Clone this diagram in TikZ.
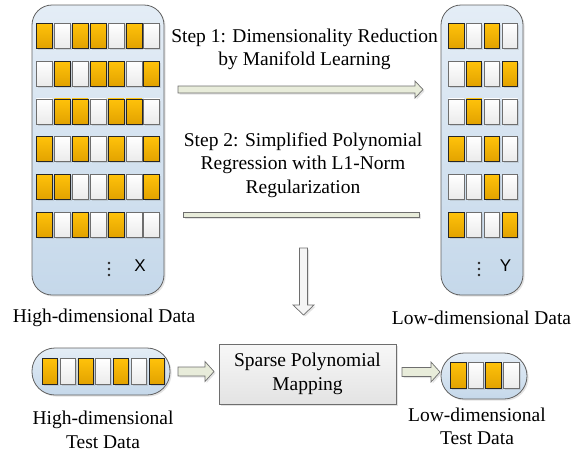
\documentclass[tikz,border=0pt]{standalone}
\usepackage{fontspec}
\setmainfont{Liberation Serif}
\newfontfamily\labelsans{Liberation Sans}
\usetikzlibrary{shadows}

\definecolor{boxtop}{HTML}{E4EDF6}
\definecolor{boxbot}{HTML}{C5D8EA}
\definecolor{orgtop}{HTML}{FFC20A}
\definecolor{orgbot}{HTML}{E2A200}
\definecolor{arrfill}{HTML}{E8ECDA}
\definecolor{edgegray}{HTML}{6E6E6E}

\tikzset{
  soft/.style={drop shadow={shadow xshift=1.6pt, shadow yshift=-1.6pt, opacity=0.22}},
  cell0/.style={draw=edgegray, line width=0.7pt, top color=white, bottom color=black!8,
                minimum width=16pt, minimum height=25pt, inner sep=0pt, anchor=north west, soft},
  cell1/.style={draw=black!85, line width=0.7pt, top color=orgtop, bottom color=orgbot,
                minimum width=16pt, minimum height=25pt, inner sep=0pt, anchor=north west, soft},
  container/.style={draw=black!62, line width=0.8pt, top color=boxtop, bottom color=boxbot,
                    inner sep=0pt, soft},
  blockarrow/.style={draw=edgegray, line width=0.7pt, fill=arrfill, soft},
  downarrow/.style={draw=edgegray, line width=0.7pt, fill=black!4, soft},
  txt/.style={font=\fontsize{19.5}{23.5}\selectfont, align=center, inner sep=0pt},
  axislabel/.style={font=\labelsans\fontsize{17}{17}\selectfont, inner sep=0pt},
}

\begin{document}
\begin{tikzpicture}[x=1pt, y=-1pt]
\useasboundingbox (0,0) rectangle (571,453);

% ---------- training data containers ----------
\node[container, rounded corners=20pt, minimum width=132pt, minimum height=290pt] (hd) at (98,150) {};
\node[container, rounded corners=20pt, minimum width=82pt, minimum height=290pt] (ld) at (482,150) {};

% high-dimensional rows (1 = filled, 0 = empty)
\foreach \row [count=\i from 0] in {
  {1,0,1,1,0,1,0},
  {0,1,0,1,1,0,1},
  {0,1,1,0,1,1,0},
  {1,0,1,0,1,0,1},
  {1,1,0,0,1,0,1},
  {1,0,1,0,1,0,0}} {
  \foreach \v [count=\j from 0] in \row {
    \node[cell\v] (hc-\i-\j) at ({36+17.9*\j},{23+37.8*\i}) {};
  }
}

% low-dimensional rows
\foreach \row [count=\i from 0] in {
  {1,0,1,0},
  {0,1,0,1},
  {0,1,0,0},
  {1,0,1,0},
  {0,0,1,0},
  {1,0,0,1}} {
  \foreach \v [count=\j from 0] in \row {
    \node[cell\v, minimum width=15.5pt] (lc-\i-\j) at ({448+17.9*\j},{23+37.8*\i}) {};
  }
}

% continuation dots and matrix names
\foreach \yy in {263,269,275} {
  \fill[black!85] (109,\yy) circle (1.4pt);
  \fill[black!85] (479,\yy) circle (1.4pt);
}
\node[axislabel] (xname) at (140,266) {X};
\node[axislabel] (yname) at (505.5,266) {Y};

% ---------- step descriptions and arrows ----------
\node[txt] (step1) at (304.5,49.5) {Step 1: Dimensionality Reduction\\by Manifold Learning};
\draw[blockarrow] (178,86) -- (415,86) -- (415,81) -- (423,89.5) -- (415,98) -- (415,93) -- (178,93) -- cycle;

\node[txt] (step2) at (303,165) {Step 2: Simplified Polynomial\\Regression with L1-Norm\\Regularization};
\draw[blockarrow] (183,212.5) rectangle (419,217.5);

\draw[downarrow] (299.5,248) -- (307.5,248) -- (307.5,305) -- (314,305) -- (303.5,315)
  -- (293,305) -- (299.5,305) -- cycle;

\node[txt] (hdname) at (104,318) {High-dimensional Data};
\node[txt] (ldname) at (481.5,318) {Low-dimensional Data};

% ---------- test stage ----------
\node[container, rounded corners=23pt, minimum width=138pt, minimum height=47pt] (htest) at (101,371.5) {};
\foreach \v [count=\j from 0] in {1,0,1,0,1,0,1} {
  \node[cell\v, minimum width=15pt, minimum height=26pt] (tc-\j) at ({42+17.8*\j},358) {};
}
\node[container, rounded corners=23pt, minimum width=86pt, minimum height=46pt] (ltest) at (484,376) {};
\foreach \v [count=\j from 0] in {1,0,1,0} {
  \node[cell\v, minimum width=15.5pt, minimum height=26pt] (uc-\j) at ({450+17.7*\j},362) {};
}

\node[draw=edgegray, line width=0.8pt, top color=black!3, bottom color=black!11,
      minimum width=177pt, minimum height=60pt, soft] (spm) at (307.5,374) {};
\node[txt] (spmtext) at (spm.center) {Sparse Polynomial\\Mapping};

\draw[blockarrow] (178,367) -- (205,367) -- (205,361.5) -- (214,371.5) -- (205,381.5)
  -- (205,376) -- (178,376) -- cycle;
\draw[blockarrow] (402,367.5) -- (431,367.5) -- (431,362) -- (440,372) -- (431,382)
  -- (431,376.5) -- (402,376.5) -- cycle;

\node[txt] (htestname) at (103,430) {High-dimensional\\Test Data};
\node[txt] (ltestname) at (477,426.5) {Low-dimensional\\Test Data};
\end{tikzpicture}
\end{document}
